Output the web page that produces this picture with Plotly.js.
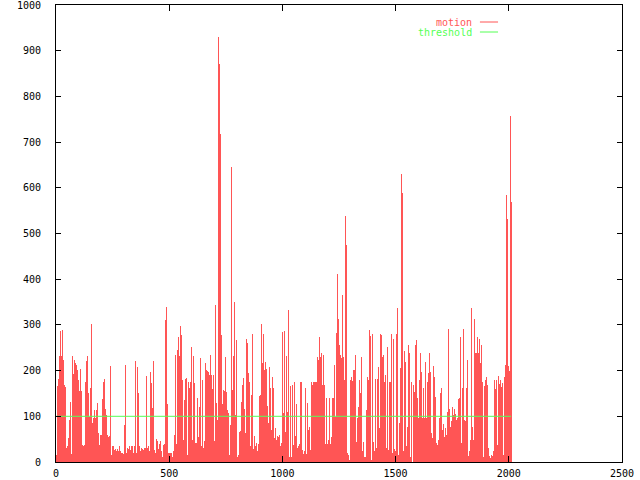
<!DOCTYPE html>
<html>
<head>
<meta charset="utf-8">
<script src="https://cdn.plot.ly/plotly-3.0.1.min.js"></script>
<style>html,body{margin:0;padding:0;background:#fff;}#chart{width:640px;height:480px;}</style>
</head>
<body>
<div id="chart"></div>
<script>
// motion value per sample (one sample every FRAME_STEP frames)
const motion = [
15,166,182,231,287,231,289,223,169,165,
30,34,52,91,132,18,231,192,223,216,
212,201,180,156,203,156,37,34,37,174,
220,231,150,99,161,302,86,96,114,96,
114,130,63,37,59,59,138,176,182,115,
103,59,55,57,210,15,34,35,26,28,
25,28,23,34,23,19,20,18,81,212,
20,30,28,34,26,34,34,19,34,221,
19,207,152,34,23,30,28,26,30,30,
188,30,36,23,198,172,118,221,26,19,
50,45,28,39,47,23,12,37,39,310,
340,128,19,20,
20,20,12,25,59,234,39,245,274,231,
298,278,180,48,136,181,183,15,176,163,
176,252,48,231,172,41,41,139,55,121,
227,34,180,30,45,216,201,199,198,190,
235,190,159,
190,45,343,130,92,931,872,718,278,128,
157,156,229,154,114,108,15,80,646,157,
232,351,103,267,12,15,
66,68,132,168,183,117,63,270,261,194,
176,34,147,281,28,57,34,42,25,39,
144,147,302,217,281,201,219,203,122,85,
208,161,71,187,163,52,74,48,57,54,
59,34,42,285,108,287,66,
232,110,332,12,166,10,168,37,176,57,
127,30,34,39,174,174,26,17,23,163,
17,130,70,77,26,176,168,176,176,176,
176,229,223,274,230,238,168,234,168,39,
139,39,48,139,39,54,139,141,212,98,
283,411,314,256,234,227,365,230,179,538,
475,19,15,4,179,185,177,201,201,234,
44,96,121,179,150,230,23,44,12,12,
114,187,179,289,276,4,281,44,23,181,
30,181,208,74,281,278,230,234,176,190,
30,252,26,176,174,281,19,270,28,23,
281,336,15,85,205,630,589,25,243,219,
34,76,256,238,10,176,1,168,154,256,
267,139,96,179,238,198,96,161,96,219,
96,174,194,238,198,63,52,210,187,143,
41,37,48,96,150,161,70,83,55,74,
58,110,290,117,77,90,120,103,115,105,
93,96,137,139,274,41,163,290,93,90,
163,223,13,23,48,336,77,48,314,238,
239,274,238,270,216,256,176,12,166,179,
187,168,30,13,8,15,13,23,179,159,
179,37,188,171,179,165,172,15,187,212,
584,532,210,200,757,569
];
const LAST_FRAME = 2010;
const FRAME_STEP = LAST_FRAME / (motion.length - 1);
const frames = motion.map((_, i) => i * FRAME_STEP);

const thresholdFrames = [0, 2010];
const thresholdValues = [100, 100];

const xTickStep = 500;
const yTickStep = 100;
const xRange = [0, 2500];
const yRange = [0, 1000];

const seriesNames = ["motion", "threshold"];
const seriesColors = ["#ff5555", "#55ff55"];

const FONT = "DejaVu Sans Mono, Liberation Mono, monospace";

const traces = [
  {
    type: "bar",
    x: frames,
    y: motion,
    width: FRAME_STEP,
    name: seriesNames[0],
    marker: { color: seriesColors[0], line: { width: 0 } },
    hoverinfo: "skip"
  },
  {
    type: "scatter",
    mode: "lines",
    x: thresholdFrames,
    y: thresholdValues,
    name: seriesNames[1],
    line: { color: seriesColors[1], width: 1 },
    hoverinfo: "skip"
  }
];

const axisCommon = {
  showgrid: false,
  zeroline: false,
  showline: true,
  linecolor: "#000",
  linewidth: 1,
  mirror: "ticks",
  ticks: "inside",
  tickcolor: "#000",
  tickwidth: 1,
  tickmode: "linear",
  ticklabeloverflow: "allow",
  tickfont: { family: FONT, size: 10, color: "#000" }
};

const layout = {
  width: 640,
  height: 480,
  margin: { l: 56, r: 18, t: 5, b: 18, pad: 0 },
  paper_bgcolor: "#fff",
  plot_bgcolor: "#fff",
  showlegend: false,
  bargap: 0,
  xaxis: Object.assign({}, axisCommon, {
    range: xRange, tick0: 0, dtick: xTickStep, ticklen: 6, ticklabelstandoff: 2
  }),
  yaxis: Object.assign({}, axisCommon, {
    range: yRange, tick0: 0, dtick: yTickStep, ticklen: 5, ticklabelstandoff: 12
  }),
  annotations: seriesNames.map((n, i) => ({
    xref: "paper", yref: "paper",
    x: 0.7385, y: i === 0 ? 0.9628 : 0.9409,
    xanchor: "right", yanchor: "middle",
    text: n, showarrow: false,
    font: { family: FONT, size: 10, color: seriesColors[i] }
  })),
  shapes: seriesNames.map((n, i) => ({
    type: "line", xref: "paper", yref: "paper",
    x0: 0.749, x1: 0.781,
    y0: i === 0 ? 0.9628 : 0.9409, y1: i === 0 ? 0.9628 : 0.9409,
    line: { color: seriesColors[i], width: 1 }
  }))
};

Plotly.newPlot("chart", traces, layout, { staticPlot: true, displayModeBar: false });
</script>
</body>
</html>
